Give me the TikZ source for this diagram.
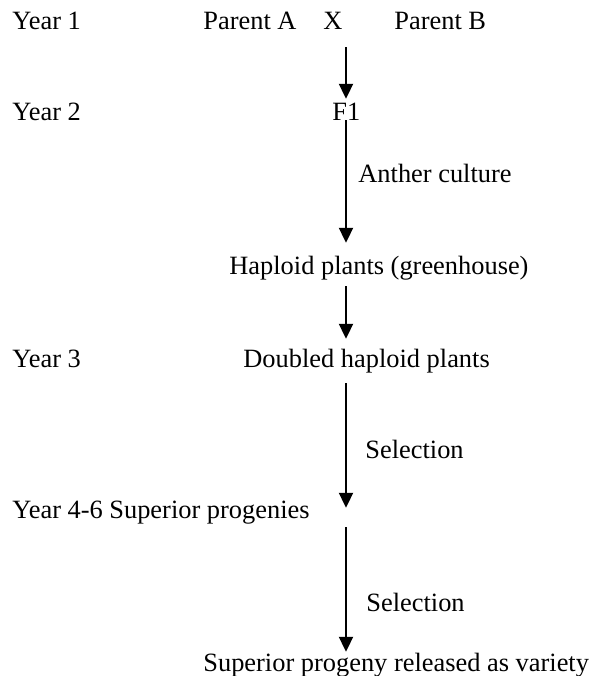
\documentclass[tikz,border=0pt]{standalone}
\usepackage{fontspec}
\setmainfont{Liberation Serif}
\newfontfamily\timesfont{Liberation Serif}
\usepackage{tikz}
\usetikzlibrary{arrows.meta, calc, positioning}
\tikzset{label text/.style={anchor=base west,inner sep=0pt,text height=0.7em,text depth=0.2em,
        font=\timesfont\fontsize{13.2}{15}\selectfont},
    flow/.style={draw,line width=1pt,-{Triangle[width=7pt,length=7.5pt]}}}

\begin{document}
\begin{tikzpicture}[x=0.5pt,y=-0.5pt]
    \useasboundingbox (0,0) rectangle (592,676);
    \coordinate (spine) at (346,0);

    % Year labels
    \node[label text] (year1) at (12,29)  {Year 1};
    \node[label text] (year2) at (12,120) {Year 2};
    \node[label text] (year3) at (12,367) {Year 3};
    \node[label text] (year4) at (12,518) {Year 4-6 Superior progenies};

    % Crossing and generations
    \node[label text] (parentA) at (203,29) {Parent A};
    \node[label text] (cross)   at (323,29) {X};
    \node[label text] (parentB) at (394,29) {Parent B};
    \node[label text] (f1)      at (332,120) {F1};
    \node[label text] (haploid) at (229,274) {Haploid plants (greenhouse)};
    \node[label text] (doubled) at (243,367) {Doubled haploid plants};
    \node[label text] (variety) at (203,671) {Superior progeny released as variety};

    % Steps beside the arrows
    \node[label text] (anther) at (358,182) {Anther culture};
    \node[label text] (select1) at (365,458) {Selection};
    \node[label text] (select2) at (366,611) {Selection};

    % Arrows down the spine
    \draw[flow, shorten <=6.9pt, shorten >=3.4pt] (cross.south -| spine) -- (f1.north -| spine);
    \draw[flow, shorten <=-2pt, shorten >=8.4pt] (f1.south -| spine) -- (haploid.north -| spine);
    \draw[flow, shorten <=3.9pt, shorten >=6.9pt] (haploid.south -| spine) -- (doubled.north -| spine);
    \draw[flow, shorten <=5.9pt, shorten >=-2.1pt] (doubled.south -| spine) -- (year4.north -| spine);
    \draw[flow, shorten <=2.4pt, shorten >=2.4pt] (year4.south -| spine) -- (variety.north -| spine);
\end{tikzpicture}
\end{document}
